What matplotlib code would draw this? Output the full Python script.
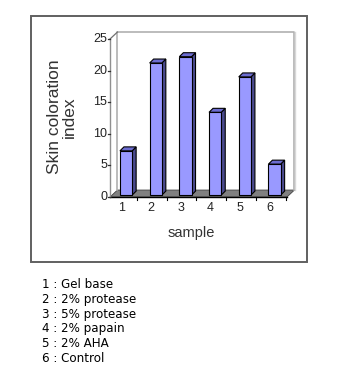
import matplotlib
matplotlib.use("Agg")
import matplotlib.pyplot as plt
from matplotlib.patches import Polygon, Rectangle
from matplotlib.lines import Line2D

samples = ['1', '2', '3', '4', '5', '6']
values = [7.3, 21.2, 22.2, 13.4, 19.0, 5.2]
yticks = [0, 5, 10, 15, 20, 25]
legend_labels = ['Gel base', '2% protease', '5% protease', '2% papain', '2% AHA', 'Control']
ylabel = 'Skin coloration\nindex'
xlabel = 'sample'

W, H = 350, 373
fig = plt.figure(figsize=(W / 100, H / 100), dpi=100)
fig.patch.set_facecolor('white')

def fx(px):
    return px / W

def fy(py):
    return 1 - py / H

# outer frame
fig.patches.append(Rectangle((fx(31), fy(262)), fx(307) - fx(31), fy(16) - fy(262),
                             transform=fig.transFigure, fill=False,
                             edgecolor='#606060', lw=1.4))

ax = fig.add_axes([fx(110), fy(197), fx(287) - fx(110), fy(39) - fy(197)])
ax.set_xlim(0.46, 6.42)
ax.set_ylim(0, 25)
ax.axis('off')

x0, x1 = ax.get_xlim()
dx, dy = 0.25, 1.1        # wall/floor depth
bw, bdx, bdy = 0.41, 0.135, 0.63   # bar width and bar depth
base = 0.3

# back wall
ax.add_line(Line2D([x0 + dx, x0 + dx, x1 + dx, x1 + dx], [dy, 25 + dy, 25 + dy, dy],
                   color='#b0b0b0', lw=1.2, clip_on=False))
ax.add_line(Line2D([x1 + dx + 0.03, x1 + dx + 0.03], [dy, 25 + dy],
                   color='#d8d8d8', lw=1.0, clip_on=False))
# floor
ax.add_patch(Polygon([(x0, 0), (x1, 0), (x1 + dx, dy), (x0 + dx, dy)], closed=True,
                     facecolor='#808080', edgecolor='#404040', lw=0.6, clip_on=False))
ax.add_line(Line2D([x0, x1], [0, 0], color='black', lw=1.0, clip_on=False))
# left axis
ax.add_line(Line2D([x0, x0], [0, 25], color='#909090', lw=1.0, clip_on=False))
ax.add_line(Line2D([x0, x0 + dx], [25, 25 + dy], color='#707070', lw=0.9, clip_on=False))
for t in yticks:
    ax.add_line(Line2D([x0 - 0.08, x0], [t, t], color='#303030', lw=0.9, clip_on=False))
    ax.text(x0 - 0.1, t, str(t), ha='right', va='center', fontsize=9,
            family='Liberation Sans', color='#222222')

# bottom ticks
for i in range(len(samples)):
    xt = i + 1 + 0.37
    ax.add_line(Line2D([xt, xt], [0, -0.5], color='black', lw=0.8, clip_on=False))

# bars
for i, (lab, v) in enumerate(zip(samples, values)):
    c = i + 1
    l, r = c - bw / 2, c + bw / 2
    ax.add_patch(Polygon([(r, base), (r + bdx, base + bdy), (r + bdx, v + bdy), (r, v)],
                         closed=True, facecolor='#4a4a8e', edgecolor='black', lw=0.8,
                         clip_on=False))
    ax.add_patch(Polygon([(l, v), (r, v), (r + bdx, v + bdy), (l + bdx, v + bdy)],
                         closed=True, facecolor='#6c6cd0', edgecolor='black', lw=0.8,
                         clip_on=False))
    ax.add_patch(Rectangle((l, base), bw, v - base, facecolor='#9999ff',
                           edgecolor='black', lw=0.8, clip_on=False))
    ax.text(c - 0.15, -1.75, lab, ha='center', va='center', fontsize=9,
            family='Liberation Sans', color='#222222')

fig.text(fx(191), fy(233), xlabel, ha='center', va='center', fontsize=10.5,
         family='Liberation Sans', color='#333333')
fig.text(fx(62), fy(117), ylabel, ha='center', va='center', rotation=90,
         fontsize=12.5, family='Liberation Sans', color='#333333', linespacing=0.95)

for i, lab in enumerate(legend_labels):
    fig.text(fx(42), fy(285 + i * 14.6), f'{i + 1} : {lab}', ha='left', va='center',
             fontsize=8.6, family='DejaVu Sans', color='black')

fig.savefig('out.png', dpi=100)
